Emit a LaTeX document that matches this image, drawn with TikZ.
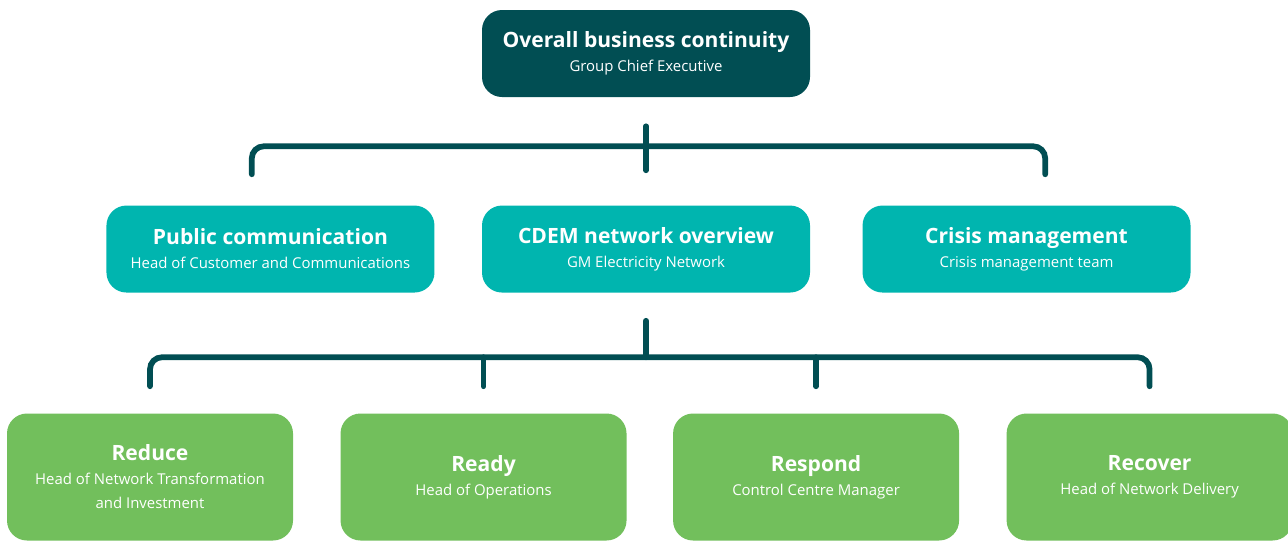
\documentclass[tikz,border=0pt]{standalone}
\usepackage{fontspec}
\setmainfont{Open Sans}
\usepackage{tikz}
\usetikzlibrary{positioning}
\definecolor{darkteal}{HTML}{014E53}
\definecolor{teal}{HTML}{00B5AF}
\definecolor{leaf}{HTML}{72BF5C}
\newcommand{\boxhead}[1]{{\fontsize{15.8}{19.5}\selectfont\bfseries #1}}
\begin{document}
\begin{tikzpicture}[x=0.75pt,y=-0.75pt,
  card/.style={rounded corners=15pt,text=white,align=center,inner sep=0pt,
    font=\fontsize{11.2}{18}\selectfont},
  wide/.style={card,minimum width=246pt,minimum height=65.25pt},
  small/.style={card,minimum width=214.5pt,minimum height=95.25pt,fill=leaf},
  bus/.style={draw=darkteal,line width=4.3pt,line cap=round,rounded corners=9pt}]
\useasboundingbox (0,0) rectangle (1288,540);

\node (overall) at (646,53.5) [wide,fill=darkteal]
  {\boxhead{Overall business continuity}\\Group Chief Executive};
\node (cdem) [wide,fill=teal,below=81pt of overall]
  {\boxhead{CDEM network overview}\\GM Electricity Network};
\node (public) [wide,fill=teal,left=35.25pt of cdem]
  {\boxhead{Public communication}\\Head of Customer and Communications};
\node (crisis) [wide,fill=teal,right=39pt of cdem]
  {\boxhead{Crisis management}\\Crisis management team};

\node (reduce) at (150,477) [small]
  {\boxhead{Reduce}\\Head of Network Transformation\\and Investment};
\node (ready) [small,right=35.25pt of reduce]
  {\boxhead{Ready}\\Head of Operations};
\node (respond) [small,right=34.5pt of ready]
  {\boxhead{Respond}\\Control Centre Manager};
\node (recover) [small,right=35.25pt of respond]
  {\boxhead{Recover}\\Head of Network Delivery};

% first level
\draw [bus] ([xshift=-14pt,yshift=23.25pt]public.north)
  |- ([xshift=14pt,yshift=44.25pt]crisis.north)
  -- ([xshift=14pt,yshift=23.25pt]crisis.north);
\draw [bus] ([yshift=-21.75pt]overall.south) -- ([yshift=26.25pt]cdem.north);

% second level
\draw [bus] ([yshift=20.25pt]reduce.north)
  |- ([yshift=42pt]recover.north) -- ([yshift=20.25pt]recover.north);
\draw [bus] ([yshift=-21pt]cdem.south) -- ([yshift=42pt]cdem.south |- reduce.north);
\draw [bus] ([yshift=42pt]ready.north) -- ([yshift=20.25pt]ready.north);
\draw [bus] ([yshift=42pt]respond.north) -- ([yshift=20.25pt]respond.north);

\end{tikzpicture}
\end{document}
